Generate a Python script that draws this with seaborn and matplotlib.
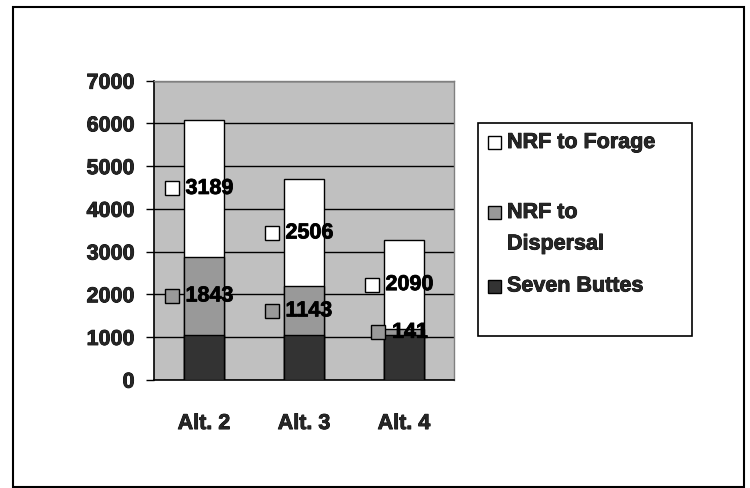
import matplotlib
matplotlib.use("Agg")
import matplotlib.pyplot as plt
import matplotlib.patheffects as pe
from matplotlib.patches import Rectangle
import seaborn as sns
import pandas as pd

# --- DATA ---
categories = ["Alt. 2", "Alt. 3", "Alt. 4"]
seven_buttes = [1040, 1040, 1040]
nrf_dispersal = [1843, 1143, 141]
nrf_forage = [3189, 2506, 2090]
series_names = ["NRF to Forage", "NRF to\nDispersal", "Seven Buttes"]
y_ticks = [0, 1000, 2000, 3000, 4000, 5000, 6000, 7000]

# --- STYLE ---
C_FORAGE = "#FFFFFF"
C_DISP = "#999999"
C_SEVEN = "#333333"
BG = "#C0C0C0"
FONT = ["Liberation Sans", "DejaVu Sans"]
FS = 15.5
HEAVY = [pe.withStroke(linewidth=0.6, foreground="black")]

sns.set_style("white", {"axes.facecolor": BG})
plt.rcParams["font.family"] = FONT
plt.rcParams["font.weight"] = "bold"

W, H = 750, 489
fig = plt.figure(figsize=(7.5, 4.89), dpi=100)
ax = fig.add_axes([154 / W, 1 - 380.7 / H, 300 / W, (380.7 - 81.7) / H])

df = pd.DataFrame({
    "cat": categories,
    "seven": seven_buttes,
    "disp": nrf_dispersal,
    "forage": nrf_forage,
})
df["mid"] = df["seven"] + df["disp"]
df["top"] = df["mid"] + df["forage"]

# stacked look by overlaying cumulative totals
for col, color in [("top", C_FORAGE), ("mid", C_DISP), ("seven", C_SEVEN)]:
    sns.barplot(data=df, x="cat", y=col, color=color, width=0.4,
                edgecolor="black", linewidth=1.0, saturation=1, ax=ax, zorder=3)

ax.set_xlim(-0.5, 2.5)
ax.set_ylim(0, 7000)
ax.set_yticks(y_ticks)
ax.set_yticklabels([str(v) for v in y_ticks], fontsize=FS, fontweight="bold")
ax.set_xticks(range(len(categories)))
ax.set_xticklabels(categories, fontsize=FS, fontweight="bold")
for lbl in ax.get_xticklabels() + ax.get_yticklabels():
    lbl.set_path_effects(HEAVY)
ax.set_xticks([-0.5, 0.5, 1.5, 2.5], minor=True)
ax.tick_params(axis="x", which="major", length=0, pad=24)
ax.tick_params(axis="x", which="minor", length=6, width=1, color="black", direction="out")
ax.tick_params(axis="y", length=6, width=1, color="black", direction="out", pad=8, left=True)
ax.set_xlabel("")
ax.set_ylabel("")
ax.yaxis.grid(True, color="black", linewidth=1.0, zorder=1)
ax.set_axisbelow(True)
for s in ["left", "bottom"]:
    ax.spines[s].set_color("black")
    ax.spines[s].set_linewidth(1.2)
for s in ["top", "right"]:
    ax.spines[s].set_color("#808080")
    ax.spines[s].set_linewidth(1.0)

# data labels with legend keys
px_per_unit = 100.0
def add_label(i, y, value, color):
    n = len(str(value))
    total = 14 + 7 + 13 * n
    left = -total / 2 - 3
    key_x = i + (left + 7) / px_per_unit
    txt_x = i + (left + 21) / px_per_unit
    ax.plot([key_x], [y], marker="s", markersize=9.5, markerfacecolor=color,
            markeredgecolor="black", markeredgewidth=1.0, linestyle="none", zorder=5)
    ax.text(txt_x, y, str(value), ha="left", va="center", fontsize=FS,
            fontweight="bold", color="black", zorder=6, path_effects=HEAVY)

for i in range(len(categories)):
    add_label(i, df["mid"][i] + nrf_forage[i] / 2, nrf_forage[i], C_FORAGE)
    add_label(i, df["seven"][i] + nrf_dispersal[i] / 2, nrf_dispersal[i], C_DISP)

# legend box drawn in figure pixels
def fx(px):
    return px / W

def fy(py):
    return 1 - py / H

fig.patches.append(Rectangle((fx(477.7), fy(336.7)), fx(692) - fx(477.7), fy(124) - fy(336.7),
                             transform=fig.transFigure, facecolor="white",
                             edgecolor="black", linewidth=1.2))
legend_rows = [(143.5, C_FORAGE, series_names[0]),
               (213.5, C_DISP, series_names[1]),
               (287, C_SEVEN, series_names[2])]
for py, color, name in legend_rows:
    fig.patches.append(Rectangle((fx(488), fy(py + 6.5)), fx(13), 13 / H,
                                 transform=fig.transFigure, facecolor=color,
                                 edgecolor="black", linewidth=1.0))
    for k, line in enumerate(name.split("\n")):
        fig.text(fx(507), fy(py + k * 31.5), line, ha="left", va="center",
                 fontsize=FS, fontweight="bold", path_effects=HEAVY)

# outer frame
fig.patches.append(Rectangle((fx(13), fy(488)), fx(744) - fx(13), fy(8) - fy(488),
                             transform=fig.transFigure, facecolor="none",
                             edgecolor="black", linewidth=1.5))

fig.savefig("out.png", dpi=100, facecolor="white")
